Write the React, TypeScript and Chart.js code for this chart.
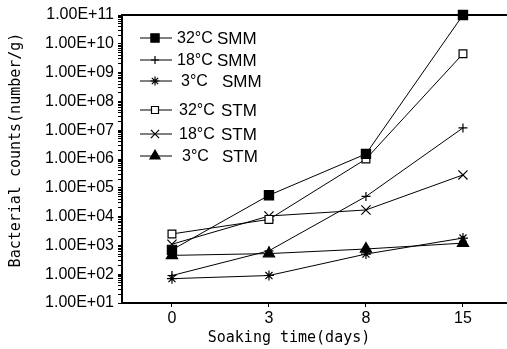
import React, { useEffect, useRef } from 'react';
import { Chart, registerables } from 'chart.js';
import { drawPoint } from 'chart.js/helpers';

Chart.register(...registerables);

// ---- data ----
const days = ['0', '3', '8', '15'];
const yTickExponents = [1, 2, 3, 4, 5, 6, 7, 8, 9, 10, 11];

const smm32 = [7e2, 5.5e4, 1.5e6, 1e11];
const smm18 = [9e1, 6.5e2, 5e4, 1.2e7];
const smm3 = [7e1, 9e1, 5e2, 1.8e3];
const stm32 = [2.5e3, 8e3, 1e6, 4.5e9];
const stm18 = [1.1e3, 1.05e4, 1.7e4, 2.8e5];
const stm3 = [4.5e2, 5.2e2, 7.5e2, 1.2e3];

const temps = ['32°C', '18°C', '3°C', '32°C', '18°C', '3°C'];
const media = ['SMM', 'SMM', 'SMM', 'STM', 'STM', 'STM'];

const seriesValues = [smm32, smm18, smm3, stm32, stm18, stm3];
const pointStyles = ['rect', 'cross', 'star', 'rect', 'crossRot', 'triangle'];
const pointFills = ['#000', '#000', '#000', '#fff', '#000', '#000'];
const pointRadii = [6.5, 4.5, 5, 5.5, 6.5, 6.5];

const legendRowsY = [38, 60, 81, 110, 134, 156];
const legendTempX = [177, 177, 181, 179, 179, 182];
const legendMediumX = [217, 217, 222, 221, 221, 222];

const TICK_FONT = { family: '"Liberation Sans", Arial, sans-serif', size: 16 };

const frameLegendTitles = {
  id: 'frameLegendTitles',
  afterDraw(chart: any) {
    const { ctx, chartArea } = chart;
    ctx.save();
    // frame (top border)
    ctx.strokeStyle = '#000';
    ctx.lineWidth = 2;
    ctx.beginPath();
    ctx.moveTo(chartArea.left, chartArea.top);
    ctx.lineTo(chart.width, chartArea.top);
    ctx.stroke();

    // legend
    ctx.textBaseline = 'middle';
    chart.data.datasets.forEach((ds: any, i: number) => {
      const y = legendRowsY[i];
      ctx.strokeStyle = '#000';
      ctx.lineWidth = 1;
      ctx.beginPath();
      ctx.moveTo(140, y);
      ctx.lineTo(172, y);
      ctx.stroke();
      ctx.fillStyle = ds.pointBackgroundColor;
      ctx.strokeStyle = '#000';
      ctx.lineWidth = 1.2;
      drawPoint(ctx, { pointStyle: ds.pointStyle, radius: ds.pointRadius * 0.9, rotation: 0, borderWidth: 1.2 }, 155, y);
      ctx.fillStyle = '#000';
      ctx.textAlign = 'left';
      ctx.font = '16px "Liberation Sans", Arial, sans-serif';
      ctx.fillText(temps[i], legendTempX[i], y + 1);
      ctx.font = '17px "Liberation Sans", Arial, sans-serif';
      ctx.fillText(media[i], legendMediumX[i], y + 1);
    });

    // axis titles
    ctx.font = '15px "DejaVu Sans Mono", "Liberation Mono", monospace';
    ctx.fillStyle = '#000';
    ctx.textAlign = 'center';
    ctx.textBaseline = 'middle';
    ctx.fillText('Soaking time(days)', 289, 338);
    ctx.translate(16, 150);
    ctx.rotate(-Math.PI / 2);
    ctx.fillText('Bacterial counts(number/g)', 0, 0);
    ctx.restore();
  },
};

export default function App() {
  const ref = useRef<HTMLCanvasElement>(null);

  useEffect(() => {
    if (!ref.current) return;
    const datasets = seriesValues.map((vals, i) => ({
      label: temps[i] + ' ' + media[i],
      data: vals.map((v, j) => ({ x: j, y: v })),
      borderColor: '#000',
      borderWidth: 1,
      backgroundColor: pointFills[i],
      pointStyle: pointStyles[i],
      pointRadius: pointRadii[i],
      pointBackgroundColor: pointFills[i],
      pointBorderColor: '#000',
      pointBorderWidth: 1.2,
      tension: 0,
      fill: false,
      clip: false,
    }));

    const chart = new Chart(ref.current, {
      type: 'line',
      data: { datasets },
      plugins: [frameLegendTitles],
      options: {
        animation: false,
        responsive: true,
        maintainAspectRatio: false,
        layout: { autoPadding: false, padding: { left: 0, right: 0, top: 15, bottom: 0 } },
        plugins: { legend: { display: false }, tooltip: { enabled: false } },
        scales: {
          x: {
            type: 'linear',
            min: -0.515,
            max: 3.454,
            afterBuildTicks: (scale: any) => {
              scale.ticks = days.map((_, i) => ({ value: i }));
            },
            afterFit: (scale: any) => {
              scale.height = 46;
            },
            ticks: {
              autoSkip: false,
              color: '#000',
              font: TICK_FONT,
              padding: 2,
              callback: (v: any) => days[v] ?? '',
            },
            grid: { drawOnChartArea: false, drawTicks: true, tickLength: 4, color: '#000' },
            border: { display: true, color: '#000', width: 2 },
          },
          y: {
            type: 'logarithmic',
            min: 10,
            max: 1e11,
            afterBuildTicks: (scale: any) => {
              const t: any[] = [];
              yTickExponents.forEach((e) => {
                for (let k = 1; k <= 9; k++) {
                  const v = k * Math.pow(10, e);
                  if (v <= 1e11) t.push({ value: v, major: k === 1 });
                }
              });
              scale.ticks = t;
            },
            afterFit: (scale: any) => {
              scale.width = 122;
            },
            ticks: {
              autoSkip: false,
              color: '#000',
              font: TICK_FONT,
              padding: 4,
              callback: (v: any) => {
                const e = Math.log10(v);
                if (Math.abs(e - Math.round(e)) < 1e-9) {
                  const n = Math.round(e);
                  return '1.00E+' + (n < 10 ? '0' + n : String(n));
                }
                return '';
              },
            },
            grid: { drawOnChartArea: false, drawTicks: true, tickLength: 4, color: '#000' },
            border: { display: true, color: '#000', width: 2 },
          },
        },
      },
    });
    return () => chart.destroy();
  }, []);

  return (
    <div style={{ position: 'absolute', left: 0, top: 0, width: 507, height: 349, background: '#fff' }}>
      <canvas ref={ref} />
    </div>
  );
}
